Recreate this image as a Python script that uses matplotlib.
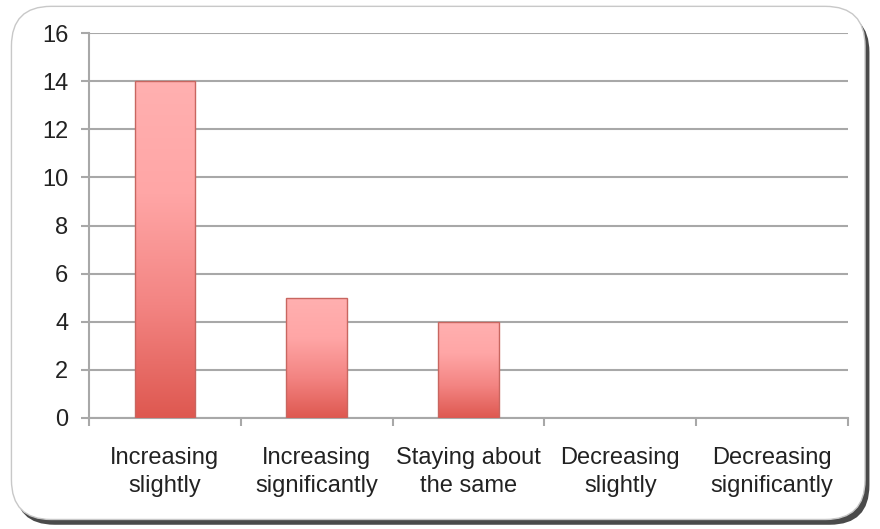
import numpy as np
import matplotlib
matplotlib.use("Agg")
import matplotlib.pyplot as plt
from matplotlib.patches import FancyBboxPatch, Rectangle
from matplotlib.colors import LinearSegmentedColormap

categories = ["Increasing\nslightly", "Increasing\nsignificantly", "Staying about\nthe same",
              "Decreasing\nslightly", "Decreasing\nsignificantly"]
counts = [14, 5, 4, 0, 0]
yticks = [0, 2, 4, 6, 8, 10, 12, 14, 16]

plt.rcParams['font.family'] = ['Liberation Sans', 'DejaVu Sans']

fig = plt.figure(figsize=(8.8, 5.29), dpi=100)
fig.patch.set_facecolor("white")

# rounded frame with a shadow on the right/bottom
shadow = FancyBboxPatch((0.017, 0.008), 0.971, 0.968, boxstyle="round,pad=0,rounding_size=0.045",
                        transform=fig.transFigure, facecolor="#4a4a4a", edgecolor="none",
                        mutation_aspect=880/529, zorder=0)
fig.patches.append(shadow)
frame = FancyBboxPatch((0.013, 0.018), 0.970, 0.970, boxstyle="round,pad=0,rounding_size=0.045",
                       transform=fig.transFigure, facecolor="white", edgecolor="#c8c8c8",
                       linewidth=1, mutation_aspect=880/529, zorder=1)
fig.patches.append(frame)

ax = fig.add_axes([89/880, 1 - 418/529, (848 - 89)/880, (418 - 33)/529])
ax.set_zorder(2)
ax.patch.set_alpha(0)

x = np.arange(len(categories))
width = 0.4
cmap = LinearSegmentedColormap.from_list("bar", ["#DE5850", "#F38482", "#FFA6A6", "#FFB0B0"])
grad = np.linspace(0, 1, 256).reshape(-1, 1)

for xi, v in zip(x, counts):
    if v <= 0:
        continue
    im = ax.imshow(grad, cmap=cmap, origin="lower", aspect="auto",
                   extent=[xi - width/2, xi + width/2, 0, v], zorder=3)
    rect = Rectangle((xi - width/2, 0), width, v, facecolor="none",
                     edgecolor="#C86660", linewidth=1.0, zorder=4)
    ax.add_patch(rect)
    im.set_clip_path(rect)

ax.set_xlim(-0.5, len(categories) - 0.5)
ax.set_ylim(0, 16)
ax.set_yticks(yticks)
ax.yaxis.grid(True, color="#a8a8a8", linewidth=1.5)
ax.set_axisbelow(True)

ax.set_xticks(x)
ax.set_xticklabels(categories, fontsize=17, color="#222222", linespacing=1.36)
ax.tick_params(axis="x", length=0, pad=21)
ax.set_xticks(np.arange(len(categories) + 1) - 0.5, minor=True)
ax.tick_params(axis="x", which="minor", length=6, width=1.5, color="#a8a8a8", direction="out")
ax.tick_params(axis="y", length=6, width=1.5, color="#a8a8a8", labelsize=17,
               labelcolor="#222222", pad=9)

for s in ["top", "right"]:
    ax.spines[s].set_visible(False)
for s in ["left", "bottom"]:
    ax.spines[s].set_color("#a8a8a8")
    ax.spines[s].set_linewidth(1.5)

fig.savefig("out.png", dpi=100, facecolor="white")
